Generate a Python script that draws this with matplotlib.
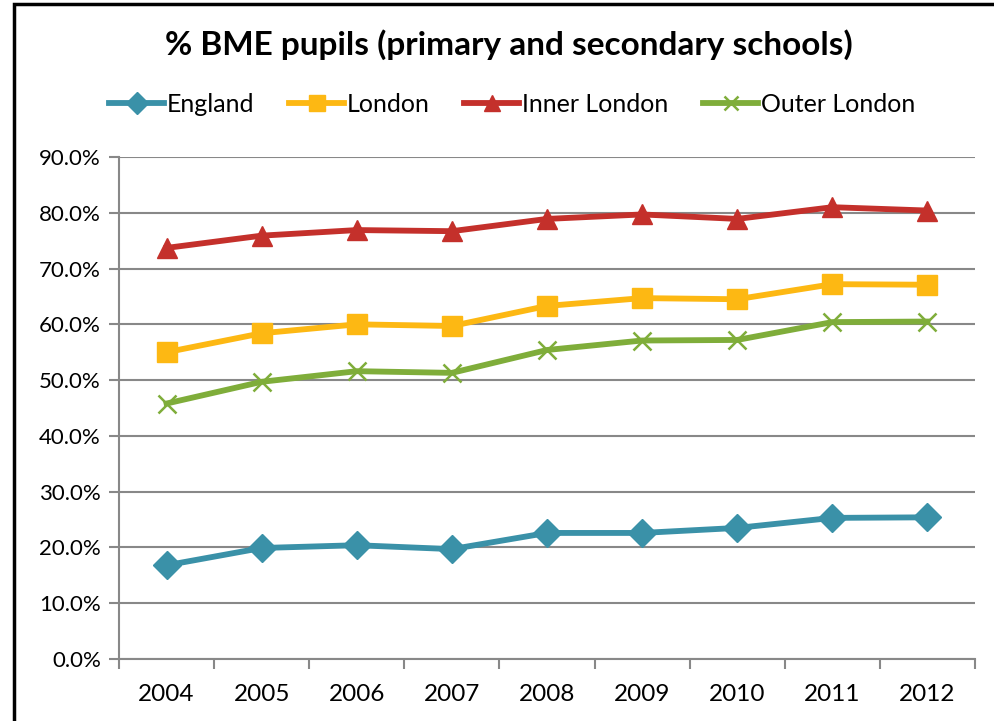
import numpy as np
import matplotlib
matplotlib.use('Agg')
import matplotlib.pyplot as plt
from matplotlib.patches import Rectangle
from matplotlib.ticker import FuncFormatter, MultipleLocator

years = ['2004', '2005', '2006', '2007', '2008', '2009', '2010', '2011', '2012']
england = [16.8, 19.9, 20.4, 19.7, 22.6, 22.6, 23.5, 25.3, 25.4]
london = [55.0, 58.4, 60.0, 59.7, 63.3, 64.7, 64.5, 67.2, 67.1]
inner_london = [73.7, 75.9, 76.9, 76.7, 78.9, 79.7, 78.9, 81.0, 80.4]
outer_london = [45.8, 49.7, 51.6, 51.3, 55.4, 57.1, 57.2, 60.4, 60.5]

plt.rcParams['font.family'] = ['Lato', 'DejaVu Sans']

fig = plt.figure(figsize=(9.94, 7.21), dpi=100)
ax = fig.add_axes([119/994, 1 - 659/721, (975 - 119)/994, (659 - 157)/721])

# black frame round the chart, running off the right and bottom edges
fig.patches.append(Rectangle((14/994, -0.05), 1.1, 1 - 4/721 + 0.05,
                             transform=fig.transFigure, fill=False,
                             edgecolor='black', linewidth=2.5))

x = np.arange(len(years))
ax.plot(x, england, color='#3a91a8', lw=4.2, marker='D', ms=14, label='England')
ax.plot(x, london, color='#fdb813', lw=4.2, marker='s', ms=14, label='London')
ax.plot(x, inner_london, color='#c4302b', lw=4.2, marker='^', ms=14, label='Inner London')
ax.plot(x, outer_london, color='#7fad3a', lw=4.2, marker='x', ms=13, mew=1.8,
        label='Outer London')

ax.set_xlim(-0.5, len(years) - 0.5)
ax.set_ylim(0, 90)
ax.yaxis.set_major_locator(MultipleLocator(10))
ax.yaxis.set_major_formatter(FuncFormatter(lambda v, p: '%.1f%%' % v))
ax.set_xticks(x)
ax.set_xticklabels(years)
ax.set_xticks(np.arange(-0.5, len(years)), minor=True)
ax.tick_params(axis='x', which='major', length=0, pad=18, labelsize=17.5)
ax.tick_params(axis='x', which='minor', length=7, color='#888888', width=1.5)
ax.tick_params(axis='y', length=7, color='#888888', width=1.5, labelsize=16, pad=6)

ax.grid(axis='y', color='#888888', lw=1.5)
ax.set_axisbelow(True)
for s in ['top', 'right']:
    ax.spines[s].set_visible(False)
for s in ['left', 'bottom']:
    ax.spines[s].set_color('#888888')
    ax.spines[s].set_linewidth(1.5)

fig.text(509/994, 1 - 45/721, '% BME pupils (primary and secondary schools)',
         ha='center', va='center', fontsize=24, fontweight='bold')

fig.legend(loc='center', bbox_to_anchor=(512/994, 1 - 104/721), ncol=4,
           frameon=False, fontsize=18, handlelength=2.2, handletextpad=0.1,
           columnspacing=1.4, markerscale=0.8)

fig.savefig('out.png', dpi=100)
